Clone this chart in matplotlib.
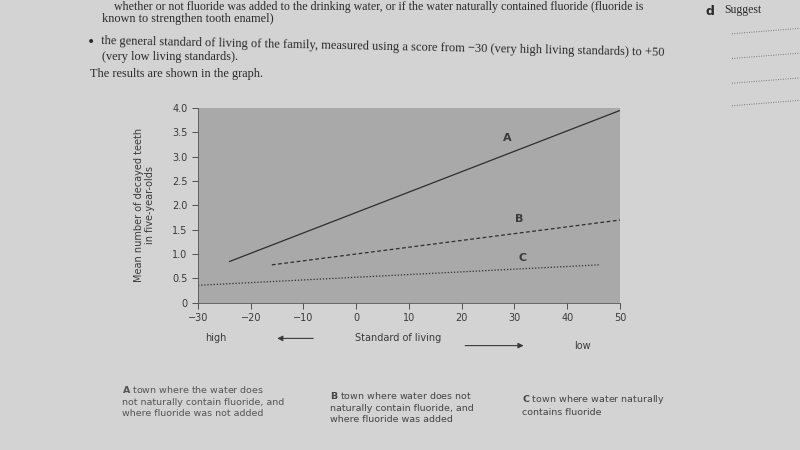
import matplotlib.pyplot as plt
from matplotlib.patches import FancyArrowPatch

# line end points
a_x = [-24, 50]
a_y = [0.85, 3.95]
b_x = [-16, 50]
b_y = [0.78, 1.70]
c_x = [-30, 46]
c_y = [0.36, 0.78]

x_ticks = [-30, -20, -10, 0, 10, 20, 30, 40, 50]
y_ticks = [0, 0.5, 1.0, 1.5, 2.0, 2.5, 3.0, 3.5, 4.0]
y_tick_labels = ['0', '0.5', '1.0', '1.5', '2.0', '2.5', '3.0', '3.5', '4.0']

page = '#d3d3d4'
ink = '#3a3a3a'

fig = plt.figure(figsize=(8, 4.5), dpi=100, facecolor=page)
ax = fig.add_axes([0.2475, 0.327, 0.5275, 0.433])
ax.set_facecolor('#a9a9aa')

ax.plot(a_x, a_y, color='#2e2e2e', lw=0.9)
ax.plot(b_x, b_y, color='#2e2e2e', lw=0.9, linestyle=(0, (3, 2)))
ax.plot(c_x, c_y, color='#2e2e2e', lw=0.9, linestyle=(0, (1, 1.5)))

ax.text(28.6, 3.38, 'A', fontsize=8, fontweight='bold', color=ink, ha='center', va='center')
ax.text(30.9, 1.72, 'B', fontsize=8, fontweight='bold', color=ink, ha='center', va='center')
ax.text(31.6, 0.92, 'C', fontsize=8, fontweight='bold', color=ink, ha='center', va='center')

ax.set_xlim(-30, 50)
ax.set_ylim(0, 4.0)
ax.set_xticks(x_ticks)
ax.set_yticks(y_ticks)
ax.set_yticklabels(y_tick_labels)
ax.tick_params(labelsize=7, colors=ink, length=4, width=0.6)
for side in ['top', 'right']:
    ax.spines[side].set_visible(False)
for side in ['left', 'bottom']:
    ax.spines[side].set_color('#555555')
    ax.spines[side].set_linewidth(0.6)
ax.set_ylabel('Mean number of decayed teeth\nin five-year-olds', fontsize=7, color=ink, labelpad=12)

# x-axis caption with arrows
fig.text(0.27, 0.248, 'high', fontsize=7, color=ink, ha='center', va='center')
fig.text(0.498, 0.248, 'Standard of living', fontsize=7, color=ink, ha='center', va='center')
fig.text(0.728, 0.232, 'low', fontsize=7, color=ink, ha='center', va='center')
fig.patches.append(FancyArrowPatch(
    (0.395, 0.248), (0.343, 0.248), transform=fig.transFigure,
    arrowstyle='-|>', mutation_scale=8, color=ink, lw=0.8))
fig.patches.append(FancyArrowPatch(
    (0.578, 0.232), (0.658, 0.232), transform=fig.transFigure,
    arrowstyle='-|>', mutation_scale=8, color=ink, lw=0.8))

# key under the graph
fig.text(0.153, 0.108, r'$\mathbf{A}$ town where the water does' + '\nnot naturally contain fluoride, and\nwhere fluoride was not added',
         fontsize=6.8, color='#555555', va='center', linespacing=1.35)
fig.text(0.412, 0.095, r'$\mathbf{B}$ town where water does not' + '\nnaturally contain fluoride, and\nwhere fluoride was added',
         fontsize=6.8, color='#444444', va='center', linespacing=1.35)
fig.text(0.652, 0.1, r'$\mathbf{C}$ town where water naturally' + '\ncontains fluoride',
         fontsize=6.8, color='#444444', va='center', linespacing=1.35)

# page text above the graph
serif = ['Liberation Serif', 'DejaVu Serif']
fig.text(0.143, 0.984, 'whether or not fluoride was added to the drinking water, or if the water naturally contained fluoride (fluoride is',
         fontsize=8.6, family=serif, color='#2a2a2a', va='center')
fig.text(0.127, 0.957, 'known to strengthen tooth enamel)', fontsize=8.8, family=serif, color='#2a2a2a', va='center')
fig.text(0.108, 0.907, '\u2022', fontsize=10, color='#2a2a2a', va='center')
fig.text(0.127, 0.908, 'the general standard of living of the family, measured using a score from \u221230 (very high living standards) to +50',
         fontsize=9, family=serif, color='#2a2a2a', va='center', rotation=-1.2, rotation_mode='anchor')
fig.text(0.127, 0.873, '(very low living standards).', fontsize=8.8, family=serif, color='#2a2a2a', va='center')
fig.text(0.112, 0.835, 'The results are shown in the graph.', fontsize=8.8, family=serif, color='#2a2a2a', va='center')

fig.text(0.882, 0.975, 'd', fontsize=9, fontweight='bold', color='#2a2a2a', va='center')
fig.text(0.905, 0.978, 'Suggest', fontsize=8.5, family=serif, color='#2a2a2a', va='center')
for yy in [0.925, 0.87, 0.815, 0.765]:
    fig.add_artist(plt.Line2D([0.915, 1.0], [yy, yy + 0.012], transform=fig.transFigure,
                              color='#777777', lw=0.7, linestyle=(0, (1, 1.5))))

fig.savefig('out.png', dpi=100, facecolor=page)
